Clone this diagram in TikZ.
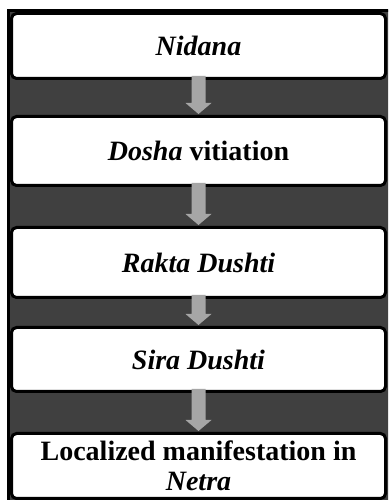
\documentclass[tikz,border=0pt]{standalone}
\usepackage{fontspec}
\setmainfont{Liberation Serif}
\usetikzlibrary{calc}
\definecolor{band}{HTML}{404040}
\definecolor{arrfill}{HTML}{A6A6A6}
\tikzset{
  flowbox/.style={draw=black, line width=3pt, fill=white, rounded corners=5pt,
    minimum width=374pt, inner sep=0pt, align=center,
    font=\fontsize{28}{30}\selectfont\bfseries},
  blockarrow/.style={fill=arrfill}
}
\newcommand{\blockarr}[2]{%
  \path let \p1=(#1.south), \p2=(#2.north) in
    [blockarrow] (\x1-7pt,\y1+4pt) -- (\x1+7pt,\y1+4pt) -- (\x1+7pt,\y2+12pt)
    -- (\x1+13pt,\y2+12pt) -- (\x1,\y2+1pt) -- (\x1-13pt,\y2+12pt)
    -- (\x1-7pt,\y2+12pt) -- cycle;}
\begin{document}
\begin{tikzpicture}[x=1pt,y=1pt]
  \clip (0,0) rectangle (388,500);
  \fill[white] (0,0) rectangle (388,500);
  \fill[band] (8.5,-5) rectangle (395,489.5);
  \draw[black, line width=3pt] (8.5,-5) -- (8.5,489.5) -- (395,489.5);
  \node[flowbox, minimum height=65pt] (b1) at (198.5,454) {\textit{Nidana}};
  \node[flowbox, minimum height=69pt] (b2) at (198.5,349) {\textit{Dosha} vitiation};
  \node[flowbox, minimum height=70pt] (b3) at (198.5,237.5) {\textit{Rakta Dushti}};
  \node[flowbox, minimum height=64pt] (b4) at (198.5,140.5) {\textit{Sira Dushti}};
  \node[flowbox, minimum height=65pt] (b5) at (198.5,34) {Localized manifestation in\\\textit{Netra}};
  \blockarr{b1}{b2}
  \blockarr{b2}{b3}
  \blockarr{b3}{b4}
  \blockarr{b4}{b5}
\end{tikzpicture}
\end{document}
